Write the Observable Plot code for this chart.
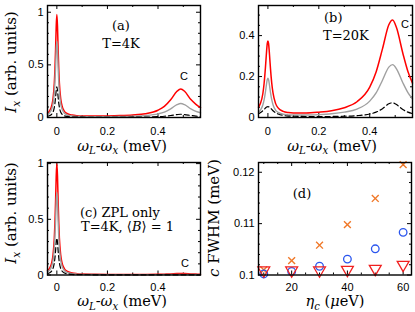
<!DOCTYPE html>
<html><head><meta charset="utf-8">
<script src="https://cdn.jsdelivr.net/npm/d3@7"></script>
<script src="https://cdn.jsdelivr.net/npm/@observablehq/plot@0.6"></script>
<style>
html,body{margin:0;padding:0;background:#fff;}
#chart{position:relative;width:415px;height:312px;overflow:hidden;background:#fff;}
#chart svg{position:absolute;overflow:visible;}
</style></head><body><div id="chart"></div>
<script>
// detuning grid (meV)
const omega = [-0.037, -0.03, -0.02, -0.015, -0.01, -0.0075, -0.005, -0.0025, 0, 0.0025, 0.005, 0.0075, 0.01, 0.015, 0.02, 0.03, 0.04, 0.06, 0.08, 0.1, 0.15, 0.2, 0.25, 0.3, 0.35, 0.4, 0.425, 0.45, 0.475, 0.49, 0.505, 0.53, 0.55, 0.568];
// (a) T=4K
const redA  = [0.042, 0.059, 0.114, 0.182, 0.328, 0.461, 0.651, 0.869, 0.979, 0.869, 0.651, 0.461, 0.328, 0.183, 0.115, 0.059, 0.038, 0.023, 0.017, 0.015, 0.014, 0.015, 0.018, 0.024, 0.036, 0.069, 0.105, 0.168, 0.249, 0.271, 0.249, 0.170, 0.125, 0.095];
const grayA = [0.029, 0.041, 0.083, 0.133, 0.241, 0.340, 0.481, 0.643, 0.724, 0.643, 0.481, 0.340, 0.241, 0.133, 0.083, 0.041, 0.026, 0.014, 0.010, 0.009, 0.007, 0.008, 0.009, 0.012, 0.018, 0.034, 0.051, 0.082, 0.122, 0.133, 0.122, 0.082, 0.058, 0.045];
const dashA = [0.011, 0.016, 0.033, 0.053, 0.097, 0.136, 0.193, 0.258, 0.291, 0.258, 0.193, 0.136, 0.097, 0.053, 0.033, 0.016, 0.010, 0.005, 0.004, 0.003, 0.002, 0.002, 0.002, 0.003, 0.004, 0.008, 0.012, 0.019, 0.028, 0.031, 0.028, 0.019, 0.013, 0.010];
// (b) T=20K
const redB  = [0.050, 0.067, 0.116, 0.166, 0.240, 0.284, 0.328, 0.362, 0.374, 0.362, 0.328, 0.284, 0.240, 0.168, 0.120, 0.069, 0.047, 0.030, 0.024, 0.022, 0.022, 0.026, 0.033, 0.048, 0.077, 0.148, 0.222, 0.335, 0.453, 0.476, 0.439, 0.314, 0.225, 0.168];
const grayB = [0.027, 0.035, 0.061, 0.086, 0.123, 0.145, 0.168, 0.185, 0.192, 0.185, 0.168, 0.145, 0.123, 0.087, 0.062, 0.036, 0.025, 0.016, 0.013, 0.012, 0.012, 0.014, 0.018, 0.026, 0.041, 0.080, 0.120, 0.182, 0.246, 0.258, 0.238, 0.170, 0.122, 0.091];
const dashB = [0.018, 0.023, 0.033, 0.039, 0.046, 0.049, 0.051, 0.052, 0.053, 0.052, 0.051, 0.049, 0.046, 0.040, 0.033, 0.023, 0.017, 0.010, 0.007, 0.006, 0.005, 0.0045, 0.005, 0.006, 0.009, 0.017, 0.026, 0.043, 0.067, 0.072, 0.063, 0.039, 0.026, 0.019];
// (c) ZPL only
const redC  = [0.039, 0.056, 0.113, 0.183, 0.333, 0.470, 0.666, 0.891, 1.0, 0.891, 0.666, 0.470, 0.333, 0.183, 0.113, 0.056, 0.034, 0.018, 0.012, 0.009, 0.007, 0.0055, 0.005, 0.005, 0.005, 0.006, 0.0077, 0.010, 0.013, 0.014, 0.013, 0.010, 0.008, 0.007];
const grayC = [0.028, 0.040, 0.083, 0.134, 0.245, 0.347, 0.492, 0.658, 0.742, 0.658, 0.492, 0.347, 0.245, 0.134, 0.083, 0.040, 0.024, 0.012, 0.008, 0.006, 0.004, 0.003, 0.003, 0.003, 0.003, 0.003, 0.004, 0.004, 0.005, 0.005, 0.005, 0.004, 0.004, 0.003];
const dashC = [0.012, 0.018, 0.037, 0.060, 0.110, 0.155, 0.219, 0.294, 0.331, 0.294, 0.219, 0.155, 0.110, 0.060, 0.037, 0.018, 0.011, 0.005, 0.0035, 0.0026, 0.002, 0.002, 0.002, 0.002, 0.002, 0.002, 0.002, 0.002, 0.002, 0.002, 0.002, 0.002, 0.002, 0.002];
// (d) FWHM vs eta_c
const eta = [10, 20, 30, 40, 50, 60];
const fwhmCross    = [0.1010, 0.1028, 0.1058, 0.1098, 0.1149, 0.1215];
const fwhmCircle   = [0.1002, 0.1007, 0.1017, 0.1031, 0.1051, 0.1083];
const fwhmTriangle = [0.1009, 0.1009, 0.1009, 0.1010, 0.1012, 0.1020];
// ticks
const specXTicks = [0, 0.2, 0.4];
const specXMinor = [0.1, 0.3, 0.5];
const yTicksA = [0, 0.5, 1];
const yMinorA = [0.1, 0.2, 0.3, 0.4, 0.6, 0.7, 0.8, 0.9];
const yTicksB = [0, 0.2, 0.4];
const yMinorB = [0.05, 0.1, 0.15, 0.25, 0.3, 0.35, 0.45, 0.5];
const etaTicks = [20, 40, 60];
const etaMinor = [10, 15, 25, 30, 35, 45, 50, 55];
const yTicksD = [0.1, 0.11, 0.12];
const yMinorD = [0.102, 0.104, 0.106, 0.108, 0.112, 0.114, 0.116, 0.118];

const chart = document.getElementById("chart");
const fmt = d => String(+(+d).toFixed(3));
const SERIF = "DejaVu Serif";

function frameTicks(fw, fh, xT, xM, yT, yM) {
  const st = {stroke: "black", strokeWidth: 1};
  return [
    Plot.tickY(yT, {y: d => d, insetRight: fw - 4, ...st}),
    Plot.tickY(yT, {y: d => d, insetLeft: fw - 4, ...st}),
    Plot.tickY(yM, {y: d => d, insetRight: fw - 2, ...st}),
    Plot.tickY(yM, {y: d => d, insetLeft: fw - 2, ...st}),
    Plot.tickX(xT, {x: d => d, insetTop: fh - 4, ...st}),
    Plot.tickX(xT, {x: d => d, insetBottom: fh - 4, ...st}),
    Plot.tickX(xM, {x: d => d, insetTop: fh - 2, ...st}),
    Plot.tickX(xM, {x: d => d, insetBottom: fh - 2, ...st})
  ];
}

function rich(svg, x, y, parts, {size = 13, family = SERIF, anchor = "middle", rotate = 0} = {}) {
  const t = d3.select(svg).append("text")
    .attr("transform", `translate(${x},${y}) rotate(${rotate})`)
    .attr("text-anchor", anchor).attr("font-family", family)
    .attr("font-size", size).attr("fill", "black");
  let shift = 0;
  parts.forEach((p, k) => {
    const s = t.append("tspan").text(p.t);
    if (p.i) s.attr("font-style", "italic");
    const target = p.sub ? size * 0.26 : 0;
    const dy = (k === 0 ? size * 0.35 : 0) + (target - shift);
    shift = target;
    if (dy) s.attr("dy", dy);
    if (p.sub) s.attr("font-size", size * 0.7);
  });
}

function place(svg, left, top) {
  svg.style.left = left + "px";
  svg.style.top = top + "px";
  chart.appendChild(svg);
  return svg;
}

function spectrum({left, top, width, height, ml, mr, mt, mb, pad, yDomain, yT, yM, red, gray, dash}) {
  const fw = width - ml - mr, fh = height - mt - mb;
  const rows = s => omega.map((w, i) => ({w, v: s[i]}));
  const svg = Plot.plot({
    width, height, marginLeft: ml, marginRight: mr, marginTop: mt, marginBottom: mb,
    style: {fontFamily: "Liberation Sans, Arial, sans-serif", fontSize: "11px", background: "transparent", overflow: "visible"},
    x: {domain: [-0.037, 0.568]},
    y: {domain: yDomain},
    marks: [
      Plot.axisX(specXTicks, {tickSize: 0, tickPadding: pad, tickFormat: fmt, label: null}),
      Plot.axisY(yT, {tickSize: 0, tickPadding: 4, tickFormat: fmt, label: null}),
      ...frameTicks(fw, fh, specXTicks, specXMinor, yT, yM),
      Plot.line(rows(red), {x: "w", y: "v", stroke: "#ff0000", strokeWidth: 1.5, curve: "monotone-x"}),
      Plot.line(rows(gray), {x: "w", y: "v", stroke: "#a0a0a0", strokeWidth: 1.4, curve: "monotone-x"}),
      Plot.line(rows(dash), {x: "w", y: "v", stroke: "black", strokeWidth: 1.2, strokeDasharray: "5,3", curve: "monotone-x"}),
      Plot.frame({stroke: "black", strokeWidth: 1.4})
    ]
  });
  return place(svg, left, top);
}

const xTitle = [{t: "ω", i: true}, {t: "L", i: true, sub: true}, {t: "-"}, {t: "ω", i: true}, {t: "x", i: true, sub: true}, {t: " (meV)"}];
const yTitle = [{t: "I", i: true}, {t: "x", i: true, sub: true}, {t: " (arb. units)"}];

// (a)
const sa = spectrum({left: 0, top: 0, width: 207, height: 156, ml: 47, mr: 7, mt: 5, mb: 39, pad: 10, yDomain: [0, 1.064], yT: yTicksA, yM: yMinorA, red: redA, gray: grayA, dash: dashA});
rich(sa, 11, 62, yTitle, {size: 15, rotate: -90});
rich(sa, 122, 145.5, xTitle, {size: 14.5});
rich(sa, 121, 25, [{t: "(a)"}]);
rich(sa, 121, 43, [{t: "T=4K"}]);
rich(sa, 184, 76, [{t: "C"}], {family: "Liberation Sans", size: 11});

// (b)
const sb = spectrum({left: 207, top: 0, width: 208, height: 156, ml: 51, mr: 3, mt: 5, mb: 39, pad: 10, yDomain: [0, 0.547], yT: yTicksB, yM: yMinorB, red: redB, gray: grayB, dash: dashB});
rich(sb, 125, 145.5, xTitle, {size: 14.5});
rich(sb, 117, 17, [{t: "(b)"}], {anchor: "start"});
rich(sb, 116, 35, [{t: "T=20K"}], {anchor: "start"});
rich(sb, 198, 24, [{t: "C"}], {family: "Liberation Sans", size: 11});

// (c)
const sc = spectrum({left: 0, top: 156, width: 207, height: 156, ml: 47, mr: 7, mt: 6, mb: 37.5, pad: 8, yDomain: [0, 1.01], yT: yTicksA, yM: yMinorA, red: redC, gray: grayC, dash: dashC});
rich(sc, 11, 57, yTitle, {size: 15, rotate: -90});
rich(sc, 122, 145, xTitle, {size: 14.5});
rich(sc, 80, 56, [{t: "(c) ZPL only"}], {anchor: "start"});
rich(sc, 81, 70, [{t: "T=4K, ⟨"}, {t: "B", i: true}, {t: "⟩ = 1"}], {anchor: "start"});
rich(sc, 185, 107, [{t: "C"}], {family: "Liberation Sans", size: 11});

// (d)
{
  const width = 208, height = 156, ml = 51, mr = 4, mt = 6, mb = 37.5;
  const fw = width - ml - mr, fh = height - mt - mb;
  const pts = s => eta.map((e, i) => ({e, v: s[i]}));
  const sd = Plot.plot({
    width, height, marginLeft: ml, marginRight: mr, marginTop: mt, marginBottom: mb,
    style: {fontFamily: "Liberation Sans, Arial, sans-serif", fontSize: "11px", background: "transparent", overflow: "visible"},
    x: {domain: [8.1, 63]},
    y: {domain: [0.1, 0.1219]},
    marks: [
      Plot.axisX(etaTicks, {tickSize: 0, tickPadding: 8, tickFormat: fmt, label: null}),
      Plot.axisY(yTicksD, {tickSize: 0, tickPadding: 4, tickFormat: fmt, label: null}),
      ...frameTicks(fw, fh, etaTicks, etaMinor, yTicksD, yMinorD),
      Plot.dot(pts(fwhmCross), {x: "e", y: "v", symbol: "times", r: 3.2, stroke: "#f07828", strokeWidth: 1.4}),
      Plot.dot(pts(fwhmCircle), {x: "e", y: "v", symbol: "circle", r: 3.8, stroke: "#2a55ee", fill: "none", strokeWidth: 1.3}),
      Plot.dot(pts(fwhmTriangle), {x: "e", y: "v", symbol: "triangle", rotate: 180, r: 4.4, stroke: "#f02020", fill: "none", strokeWidth: 1.3}),
      Plot.frame({stroke: "black", strokeWidth: 1.4})
    ]
  });
  place(sd, 207, 156);
  rich(sd, 7, 62, [{t: "c", i: true}, {t: " FWHM (meV)"}], {size: 15, rotate: -90});
  rich(sd, 128, 145, [{t: "η", i: true}, {t: "c", i: true, sub: true}, {t: " ("}, {t: "μ", i: true}, {t: "eV)"}], {size: 14.5});
  rich(sd, 95, 37, [{t: "(d)"}]);
}
</script></body></html>
